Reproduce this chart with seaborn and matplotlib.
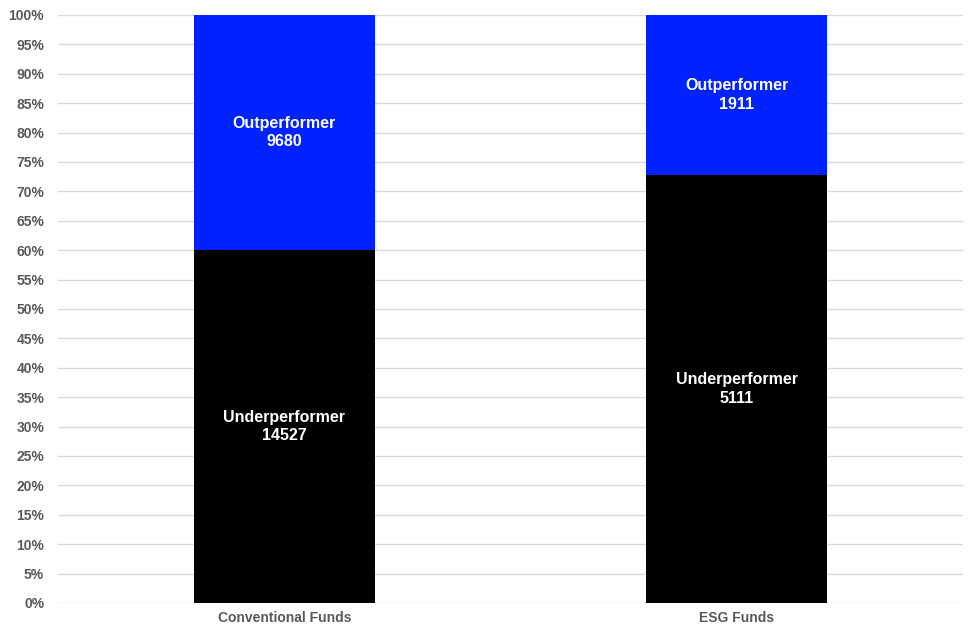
import pandas as pd
import matplotlib.pyplot as plt
import seaborn as sns

categories = ["Conventional Funds", "ESG Funds"]
underperformers = [14527, 5111]
outperformers = [9680, 1911]

df = pd.DataFrame({
    "fund": categories,
    "under": underperformers,
    "out": outperformers,
})
df["total"] = df["under"] + df["out"]
df["under_pct"] = df["under"] / df["total"] * 100
df["total_pct"] = 100.0

sns.set_style("white")
plt.rcParams["font.family"] = ["Liberation Sans", "DejaVu Sans"]

fig = plt.figure(figsize=(9.77, 6.37), dpi=100)
ax = fig.add_axes([0.0594, 0.0534, 0.9263, 0.9231])

# full stack in blue, underperformer part drawn on top in black
sns.barplot(data=df, x="fund", y="total_pct", color="#0022ff", width=0.4,
            saturation=1, linewidth=0, ax=ax, zorder=3)
sns.barplot(data=df, x="fund", y="under_pct", color="#000000", width=0.4,
            saturation=1, linewidth=0, ax=ax, zorder=3)

for i, row in df.iterrows():
    ax.text(i, row["under_pct"] / 2, f"Underperformer\n{row['under']}",
            ha="center", va="center", color="white", fontsize=11.5,
            fontweight="bold", linespacing=1.3, zorder=4)
    ax.text(i, (row["under_pct"] + 100) / 2, f"Outperformer\n{row['out']}",
            ha="center", va="center", color="white", fontsize=11.5,
            fontweight="bold", linespacing=1.3, zorder=4)

ax.set_ylim(0, 100)
ax.set_xlim(-0.5, 1.5)
ax.set_yticks(range(0, 101, 5))
ax.set_yticklabels([f"{v}%" for v in range(0, 101, 5)])
ax.yaxis.grid(True, color="#d9d9d9", linewidth=1, zorder=0)
ax.set_axisbelow(True)
for s in ax.spines.values():
    s.set_visible(False)
ax.tick_params(axis="both", length=0, labelsize=10, labelcolor="#595959", pad=6)
ax.tick_params(axis="y", pad=10)
for lbl in ax.get_xticklabels() + ax.get_yticklabels():
    lbl.set_fontweight("bold")
ax.set_xlabel("")
ax.set_ylabel("")

fig.savefig("out.png", dpi=100)
